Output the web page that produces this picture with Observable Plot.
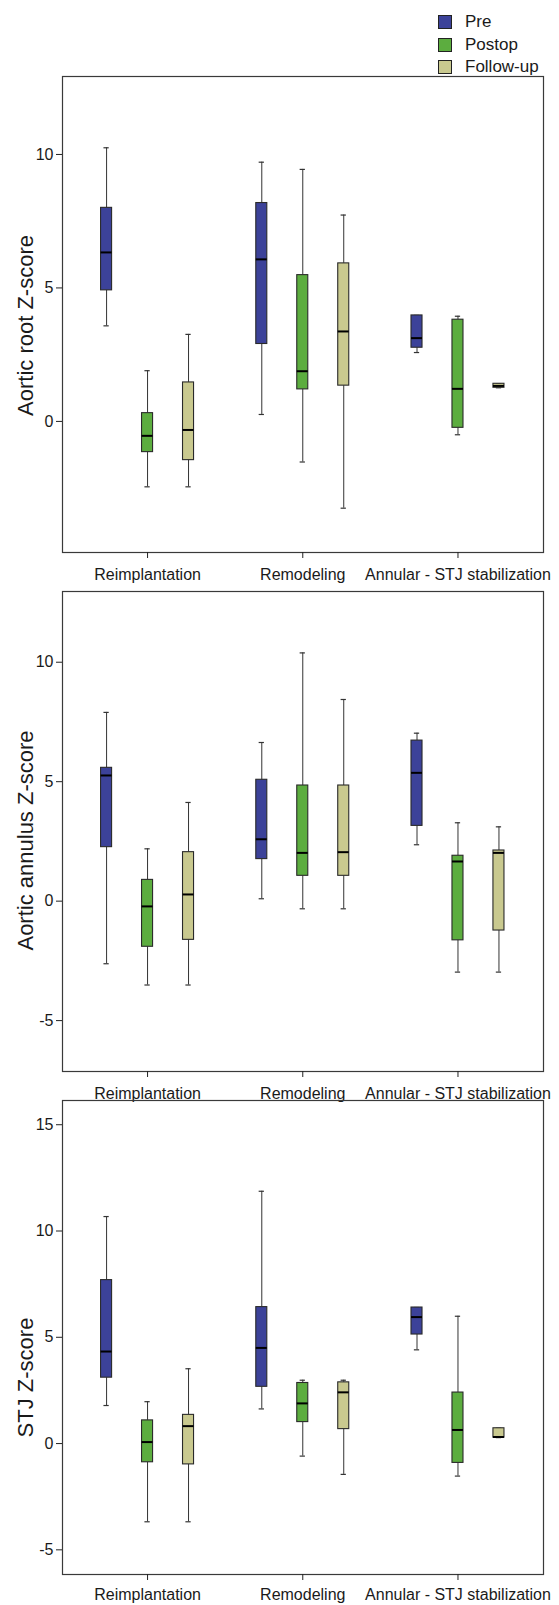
<!DOCTYPE html>
<html>
<head>
<meta charset="utf-8">
<script src="https://cdn.jsdelivr.net/npm/d3@7"></script>
<script src="https://cdn.jsdelivr.net/npm/@observablehq/plot@0.6"></script>
<style>
  html, body { margin: 0; padding: 0; background: #fff; }
  body { width: 559px; height: 1605px; position: relative; overflow: hidden;
         font-family: "Liberation Sans", Arial, Helvetica, sans-serif; color: #1a1a1a; }
  .panel { position: absolute; left: 0; }
  .panel svg { overflow: visible; background: none; }
  #legend { position: absolute; left: 438px; top: 11px; font-size: 17px; }
  .lrow { display: flex; align-items: center; height: 22.6px; }
  .sw { width: 12px; height: 12px; border: 1px solid #222; margin-right: 13px; }
</style>
</head>
<body>
<div id="legend"></div>
<div id="p1" class="panel"></div>
<div id="p2" class="panel"></div>
<div id="p3" class="panel"></div>
<script>
// ---- categories ----
const groups = ["Reimplantation", "Remodeling", "Annular - STJ stabilization"];
const series = ["Pre", "Postop", "Follow-up"];
const seriesColors = ["#3c4299", "#5cad3f", "#c9c98f"];

// ---- box stats, order: Reimpl(Pre,Postop,FU), Remod(Pre,Postop,FU), Annular(Pre,Postop,FU) ----
// Aortic root Z-score
const rootMin = [3.58, -2.45, -2.45, 0.26, -1.52, -3.25, 2.58, -0.50, 1.26];
const rootQ1  = [4.91, -1.15, -1.45, 2.90,  1.20,  1.34, 2.76, -0.24, 1.26];
const rootMed = [6.33, -0.54, -0.32, 6.07,  1.88,  3.37, 3.12,  1.22, 1.33];
const rootQ3  = [8.00,  0.31,  1.46, 8.18,  5.48,  5.92, 3.97,  3.81, 1.41];
const rootMax = [10.25, 1.90,  3.26, 9.71,  9.44,  7.73, 3.97,  3.94, 1.41];
const rootTicks = [0, 5, 10];

// Aortic annulus Z-score
const annMin = [-2.62, -3.51, -3.51, 0.10, -0.32, -0.32, 2.36, -2.97, -2.97];
const annQ1  = [ 2.26, -1.91, -1.62, 1.76,  1.06,  1.06, 3.15, -1.64, -1.23];
const annMed = [ 5.26, -0.22,  0.28, 2.59,  2.02,  2.05, 5.37,  1.66,  2.02];
const annQ3  = [ 5.58,  0.89,  2.05, 5.08,  4.84,  4.84, 6.72,  1.90,  2.12];
const annMax = [ 7.90,  2.19,  4.13, 6.64, 10.39,  8.44, 7.03,  3.28,  3.11];
const annTicks = [-5, 0, 5, 10];

// STJ Z-score
const stjMin = [1.79, -3.68, -3.68, 1.63, -0.59, -1.45, 4.41, -1.53, 0.28];
const stjQ1  = [3.10, -0.88, -0.98, 2.67,  1.01,  0.68, 5.13, -0.91, 0.28];
const stjMed = [4.33,  0.07,  0.82, 4.50,  1.89,  2.41, 5.95,  0.64, 0.31];
const stjQ3  = [7.69,  1.09,  1.35, 6.42,  2.85,  2.88, 6.40,  2.40, 0.72];
const stjMax = [10.68, 1.97,  3.52, 11.87, 2.98,  2.98, 6.40,  5.99, 0.72];
const stjTicks = [-5, 0, 5, 10, 15];

// ---- layout constants (in group units) ----
const seriesStep = 0.264;
const boxHalf = 0.0355;
const capHalf = 0.017;
const font = "Liberation Sans, Arial, Helvetica, sans-serif";

function rows(mn, q1, md, q3, mx) {
  const out = [];
  groups.forEach((g, gi) => series.forEach((s, si) => {
    const k = gi * series.length + si;
    out.push({group: g, series: s, x: gi + (si - 1) * seriesStep,
              min: mn[k], q1: q1[k], med: md[k], q3: q3[k], max: mx[k]});
  }));
  return out;
}

function panel(el, top, height, marginBottom, xPad, yDomain, ticks, label, labelDy, data) {
  const chart = Plot.plot({
    width: 559, height,
    marginLeft: 62, marginRight: 16, marginTop: 6, marginBottom,
    style: {fontSize: "16px", fontFamily: font, color: "#1a1a1a", background: "none", overflow: "visible"},
    x: {domain: [-0.548, 2.551], axis: null},
    y: {domain: yDomain, axis: null},
    color: {domain: series, range: seriesColors},
    marks: [
      Plot.frame({stroke: "#3a3a3a", strokeWidth: 1.2}),
      Plot.axisX({ticks: [0, 1, 2], tickFormat: i => groups[i], label: null, tickSize: 6, tickPadding: xPad, fontSize: 16, stroke: "#222"}),
      Plot.axisY({ticks, tickFormat: d => String(d), tickSize: 6, tickPadding: 3, fontSize: 16, label: null, stroke: "#222"}),
      Plot.text([label], {frameAnchor: "left", textAnchor: "middle", rotate: -90, dx: -37, dy: labelDy, fontSize: 22, fill: "#1a1a1a"}),
      Plot.ruleX(data, {x: "x", y1: "q3", y2: "max", stroke: "#333", strokeWidth: 1}),
      Plot.ruleX(data, {x: "x", y1: "min", y2: "q1", stroke: "#333", strokeWidth: 1}),
      Plot.ruleY(data, {y: "max", x1: d => d.x - capHalf, x2: d => d.x + capHalf, stroke: "#333", strokeWidth: 1.2}),
      Plot.ruleY(data, {y: "min", x1: d => d.x - capHalf, x2: d => d.x + capHalf, stroke: "#333", strokeWidth: 1.2}),
      Plot.rect(data, {x1: d => d.x - boxHalf, x2: d => d.x + boxHalf, y1: "q1", y2: "q3", fill: "series", stroke: "#2a2a2a", strokeWidth: 1.1}),
      Plot.ruleY(data, {y: "med", x1: d => d.x - boxHalf, x2: d => d.x + boxHalf, stroke: "#000", strokeWidth: 2})
    ]
  });
  const div = document.getElementById(el);
  div.style.top = top + "px";
  div.appendChild(chart);
}

panel("p1", 70, 510, 28, 10, [-4.91, 12.92], rootTicks, "Aortic root Z-score", 11,
      rows(rootMin, rootQ1, rootMed, rootQ3, rootMax));
panel("p2", 585, 510, 24, 10, [-7.13, 12.96], annTicks, "Aortic annulus Z-score", 9,
      rows(annMin, annQ1, annMed, annQ3, annMax));
panel("p3", 1094, 509, 29, 8, [-6.16, 16.14], stjTicks, "STJ Z-score", 40,
      rows(stjMin, stjQ1, stjMed, stjQ3, stjMax));

// ---- legend ----
const legend = document.getElementById("legend");
series.forEach((s, i) => {
  const row = document.createElement("div");
  row.className = "lrow";
  const sw = document.createElement("div");
  sw.className = "sw";
  sw.style.background = seriesColors[i];
  const t = document.createElement("span");
  t.textContent = s;
  row.appendChild(sw); row.appendChild(t);
  legend.appendChild(row);
});
</script>
</body>
</html>
